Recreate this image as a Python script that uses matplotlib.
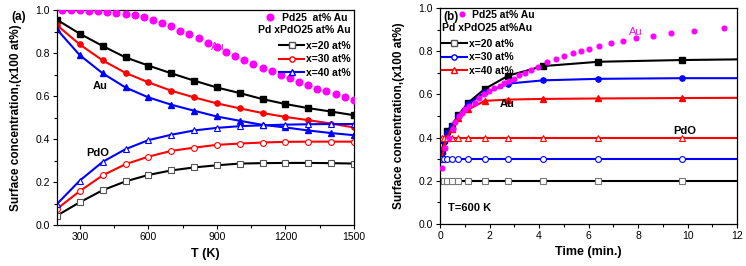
import matplotlib
matplotlib.use("Agg")
import matplotlib.pyplot as plt
from matplotlib.lines import Line2D
from matplotlib.ticker import MultipleLocator

plt.rcParams['font.family'] = ['Liberation Sans', 'DejaVu Sans']

# ---------------- Panel (a) data ----------------
T_pts = [200, 300, 400, 500, 600, 700, 800, 900, 1000, 1100, 1200, 1300, 1400, 1500]
au_x20 = [0.955, 0.89, 0.833, 0.78, 0.742, 0.706, 0.672, 0.640, 0.614, 0.586, 0.563, 0.544, 0.528, 0.511]
au_x30 = [0.93, 0.84, 0.766, 0.708, 0.664, 0.625, 0.594, 0.566, 0.543, 0.521, 0.503, 0.488, 0.472, 0.454]
au_x40 = [0.91, 0.79, 0.706, 0.640, 0.594, 0.560, 0.532, 0.505, 0.485, 0.466, 0.454, 0.440, 0.428, 0.418]
pdo_x20 = [0.044, 0.106, 0.162, 0.203, 0.233, 0.254, 0.268, 0.278, 0.286, 0.288, 0.289, 0.289, 0.288, 0.286]
pdo_x30 = [0.075, 0.158, 0.231, 0.283, 0.318, 0.345, 0.360, 0.373, 0.379, 0.384, 0.387, 0.388, 0.388, 0.388]
pdo_x40 = [0.098, 0.207, 0.294, 0.353, 0.395, 0.420, 0.440, 0.452, 0.460, 0.464, 0.467, 0.469, 0.470, 0.470]

T_pd25 = [220, 260, 300, 340, 380, 420, 460, 500, 540, 580, 620, 660, 700, 740, 780, 820, 860,
          900, 940, 980, 1020, 1060, 1100, 1140, 1180, 1220, 1260, 1300, 1340, 1380, 1420, 1460, 1500]
au_pd25 = [1.0, 1.0, 0.999, 0.997, 0.995, 0.992, 0.987, 0.981, 0.975, 0.966, 0.952, 0.938, 0.924,
           0.905, 0.887, 0.868, 0.848, 0.828, 0.807, 0.786, 0.766, 0.748, 0.732, 0.715, 0.700,
           0.682, 0.666, 0.650, 0.635, 0.622, 0.609, 0.596, 0.584]

# ---------------- Panel (b) data ----------------
t_pts = [0.07, 0.16, 0.27, 0.47, 0.74, 1.14, 1.8, 2.76, 4.17, 6.4, 9.76, 12.0]
b_au_x20 = [0.34, 0.39, 0.43, 0.455, 0.505, 0.562, 0.625, 0.687, 0.731, 0.751, 0.759, 0.762]
b_au_x30 = [0.33, 0.38, 0.42, 0.452, 0.50, 0.555, 0.609, 0.650, 0.665, 0.672, 0.675, 0.675]
b_au_x40 = [0.30, 0.36, 0.40, 0.44, 0.49, 0.53, 0.570, 0.576, 0.579, 0.581, 0.583, 0.584]
t_pdo = [0.0, 0.07, 0.16, 0.27, 0.47, 0.74, 1.14, 1.8, 2.76, 4.17, 6.4, 9.76, 12.0]
b_pdo_x20 = [0.2] * 13
b_pdo_x30 = [0.3] * 13
b_pdo_x40 = [0.4] * 13

t_pd25 = [0.07, 0.2, 0.36, 0.5, 0.62, 0.75, 0.88, 1.02, 1.18, 1.39, 1.59, 1.79, 1.99, 2.19, 2.40,
          2.60, 2.80, 3.0, 3.2, 3.41, 3.68, 3.95, 4.31, 4.69, 5.01, 5.35, 5.68, 6.02, 6.44, 6.91,
          7.41, 7.92, 8.59, 9.33, 10.28, 11.47]
b_au_pd25 = [0.26, 0.35, 0.40, 0.44, 0.47, 0.50, 0.515, 0.53, 0.546, 0.562, 0.582, 0.60, 0.615,
             0.628, 0.639, 0.651, 0.66, 0.67, 0.688, 0.70, 0.713, 0.728, 0.75, 0.764, 0.778, 0.79,
             0.801, 0.81, 0.824, 0.836, 0.849, 0.86, 0.872, 0.883, 0.895, 0.907]

MAG = '#ff00ff'
LW = 1.5
MS = 3.8
TICK_FS = 7.5
LAB_FS = 8.5

fig = plt.figure(figsize=(7.46, 2.66), dpi=100)
axa = fig.add_axes([0.0764, 0.154, 0.398, 0.808])
axb = fig.add_axes([0.590, 0.158, 0.398, 0.812])


def style(ax):
    ax.tick_params(axis='both', which='major', direction='out', length=3, width=0.8,
                   labelsize=TICK_FS, pad=2)
    ax.tick_params(axis='both', which='minor', direction='out', length=2, width=0.8)
    for s in ax.spines.values():
        s.set_linewidth(0.9)
    ax.set_ylim(0, 1.0)
    ax.yaxis.set_major_locator(MultipleLocator(0.2))
    ax.yaxis.set_minor_locator(MultipleLocator(0.1))
    ax.yaxis.set_major_formatter(matplotlib.ticker.FormatStrFormatter('%.1f'))
    ax.set_ylabel('Surface concentration,(x100 at%)', fontsize=LAB_FS, fontweight='bold', labelpad=10)


# ---------- panel (a) ----------
axa.plot(T_pd25, au_pd25, linestyle='none', marker='o', ms=4.8, color=MAG, zorder=3)
for y, c, m in [(au_x20, 'black', 's'), (au_x30, 'red', 'o'), (au_x40, 'blue', '^')]:
    axa.plot(T_pts, y, color=c, lw=LW, marker=m, ms=MS, mfc=c, mec=c)
for y, c, m, mec in [(pdo_x20, 'black', 's', '#555555'), (pdo_x30, 'red', 'o', 'red'),
                     (pdo_x40, 'blue', '^', 'blue')]:
    axa.plot(T_pts, y, color=c, lw=LW, marker=m, ms=MS + 0.4, mfc='white', mec=mec, mew=0.8)

axa.set_xlim(200, 1500)
axa.xaxis.set_major_locator(MultipleLocator(300))
axa.xaxis.set_minor_locator(MultipleLocator(150))
style(axa)
axa.set_xlabel('T (K)', fontsize=LAB_FS + 0.5, fontweight='bold', labelpad=4)
axa.text(905, 0.83, 'Au', color=MAG, fontsize=8, ha='center', va='center')
axa.text(390, 0.645, 'Au', color='black', fontsize=8, fontweight='bold', ha='center', va='center')
axa.text(378, 0.335, 'PdO', color='black', fontsize=8, fontweight='bold', ha='center', va='center')
axa.text(-0.155, 0.97, '(a)', transform=axa.transAxes, fontsize=8.5, fontweight='bold',
         ha='left', va='center')

h0 = [Line2D([], [], linestyle='none', marker='o', ms=4.8, color=MAG)]
leg1 = axa.legend(h0, ['Pd25  at% Au'], loc='upper right', bbox_to_anchor=(1.0, 1.015),
                  frameon=False, prop={'size': 7.5, 'weight': 'bold'}, handlelength=1.2,
                  handletextpad=0.6, borderaxespad=0.2)
axa.add_artist(leg1)
hs = [Line2D([], [], color='black', lw=LW, marker='s', ms=MS, mfc='white', mec='#555555'),
      Line2D([], [], color='red', lw=LW, marker='o', ms=MS, mfc='white', mec='red'),
      Line2D([], [], color='blue', lw=LW, marker='^', ms=MS, mfc='white', mec='blue')]
leg2 = axa.legend(hs, ['x=20 at%', 'x=30 at%', 'x=40 at%'], loc='upper right',
                  bbox_to_anchor=(1.0, 0.945), frameon=False, prop={'size': 7.5, 'weight': 'bold'},
                  title='Pd xPdO25 at% Au', title_fontproperties={'size': 7.5, 'weight': 'bold'},
                  alignment='right', handlelength=2.4, handletextpad=0.2, labelspacing=0.35,
                  borderaxespad=0.2, borderpad=0.1)
leg2._legend_box.sep = 4

# ---------- panel (b) ----------
axb.plot(t_pd25, b_au_pd25, linestyle='none', marker='o', ms=3.4, color=MAG, zorder=3)
for y, c, m in [(b_au_x20, 'black', 's'), (b_au_x30, 'blue', 'o'), (b_au_x40, 'red', '^')]:
    axb.plot(t_pts, y, color=c, lw=LW, marker=m, ms=MS, mfc=c, mec=c, markevery=slice(0, -1))
for y, c, m, mec in [(b_pdo_x20, 'black', 's', '#777777'), (b_pdo_x30, 'blue', 'o', 'blue'),
                     (b_pdo_x40, 'red', '^', 'red')]:
    axb.plot(t_pdo, y, color=c, lw=LW, marker=m, ms=MS + 0.4, mfc='white', mec=mec, mew=0.8,
             markevery=slice(1, -1))

axb.set_xlim(0, 12)
axb.xaxis.set_major_locator(MultipleLocator(2))
axb.xaxis.set_minor_locator(MultipleLocator(1))
style(axb)
axb.set_xlabel('Time (min.)', fontsize=LAB_FS + 0.5, fontweight='bold', labelpad=4)
axb.text(7.9, 0.89, 'Au', color=MAG, fontsize=8, ha='center', va='center')
axb.text(2.7, 0.555, 'Au', color='black', fontsize=8, fontweight='bold', ha='center', va='center')
axb.text(9.9, 0.43, 'PdO', color='black', fontsize=8, fontweight='bold', ha='center', va='center')
axb.text(0.3, 0.075, 'T=600 K', color='black', fontsize=8, fontweight='bold', ha='left', va='center')
axb.text(0.01, 0.96, '(b)', transform=axb.transAxes, fontsize=8.5, fontweight='bold',
         ha='left', va='center')

h0b = [Line2D([], [], linestyle='none', marker='o', ms=3.4, color=MAG)]
leg3 = axb.legend(h0b, ['Pd25 at% Au'], loc='upper left', bbox_to_anchor=(0.035, 1.02),
                  frameon=False, prop={'size': 7.5, 'weight': 'bold'}, handlelength=1.0,
                  handletextpad=0.5, borderaxespad=0.2)
axb.add_artist(leg3)
hsb = [Line2D([], [], color='black', lw=LW, marker='s', ms=MS, mfc='white', mec='#555555'),
       Line2D([], [], color='blue', lw=LW, marker='o', ms=MS, mfc='white', mec='blue'),
       Line2D([], [], color='red', lw=LW, marker='^', ms=MS, mfc='white', mec='red')]
leg4 = axb.legend(hsb, ['x=20 at%', 'x=30 at%', 'x=40 at%'], loc='upper left',
                  bbox_to_anchor=(-0.005, 0.945), frameon=False, prop={'size': 7.5, 'weight': 'bold'},
                  title='Pd xPdO25 at%Au', title_fontproperties={'size': 7.5, 'weight': 'bold'},
                  alignment='left', handlelength=2.4, handletextpad=0.2, labelspacing=0.35,
                  borderaxespad=0.2, borderpad=0.1)
leg4._legend_box.sep = 4

fig.savefig('out.png', dpi=100)
